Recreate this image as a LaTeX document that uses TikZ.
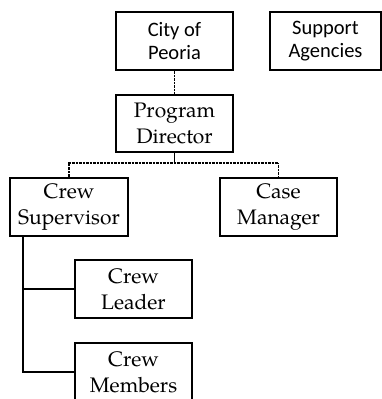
\documentclass[tikz,border=0pt]{standalone}
\usepackage{fontspec}
\setmainfont{TeX Gyre Pagella}
\newfontfamily\calib{Carlito}
\begin{document}
\begin{tikzpicture}[x=1pt,y=1pt,
  box/.style={draw, line width=1.4pt, inner sep=0pt, align=center},
  serifbox/.style={box, font=\fontsize{21}{26}\selectfont},
  sansbox/.style={box, font=\calib\fontsize{20.5}{23}\selectfont},
  dotline/.style={line width=1.2pt, dash pattern=on 0.8pt off 0.6pt},
  solidline/.style={line width=1.6pt}]
\clip (0,0) rectangle (382,399);
\useasboundingbox (0,0) rectangle (382,399);
\node[sansbox, minimum width=117pt, minimum height=58pt] (city) at (174.5,358) {City of\\Peoria};
\node[sansbox, minimum width=111pt, minimum height=58pt] (supp) at (325.5,358) {Support\\Agencies};
\node[serifbox, minimum width=117pt, minimum height=57pt] (prog) at (174.5,275.5) {Program\\Director};
\node[serifbox, minimum width=118pt, minimum height=58pt] (sup) at (69,192) {Crew\\Supervisor};
\node[serifbox, minimum width=117pt, minimum height=58pt] (case) at (278.5,192) {Case\\Manager};
\node[serifbox, minimum width=117pt, minimum height=58pt] (lead) at (133.5,110) {Crew\\Leader};
\node[serifbox, minimum width=117pt, minimum height=58pt] (mem) at (133.5,27) {Crew\\Members};
\coordinate (bar) at (174.5,236);
\coordinate (sp) at (23,0);
\draw[dotline] (city.south) -- (prog.north);
\draw[solidline] (prog.south) -- (bar);
\draw[dotline] (sup.north) |- (bar) -| (case.north);
\draw[solidline] (sup.south -| sp) |- (lead.west);
\draw[solidline] (sup.south -| sp) |- (mem.west);
\end{tikzpicture}
\end{document}
